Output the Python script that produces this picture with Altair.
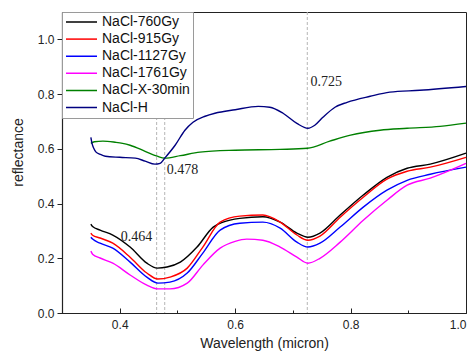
import altair as alt
import pandas as pd

# ---- data ----
series_names = ["NaCl-760Gy", "NaCl-915Gy", "NaCl-1127Gy", "NaCl-1761Gy", "NaCl-X-30min", "NaCl-H"]
series_colors = ["#000000", "#ff0000", "#0000ff", "#ff00ff", "#008000", "#000080"]

wl_760 = [0.350, 0.353, 0.366, 0.388, 0.418, 0.447, 0.465, 0.482, 0.505, 0.534, 0.562, 0.579, 0.608,
          0.648, 0.678, 0.707, 0.726, 0.747, 0.782, 0.822, 0.863, 0.898, 0.938, 1.0]
r_760 = [0.325, 0.316, 0.303, 0.285, 0.241, 0.182, 0.164, 0.168, 0.186, 0.241, 0.314, 0.332, 0.346,
         0.352, 0.332, 0.292, 0.277, 0.292, 0.358, 0.431, 0.496, 0.529, 0.544, 0.584]

wl_915 = [0.350, 0.353, 0.366, 0.388, 0.418, 0.447, 0.466, 0.487, 0.517, 0.544, 0.574, 0.608, 0.648,
          0.678, 0.707, 0.726, 0.747, 0.782, 0.822, 0.863, 0.898, 0.938, 1.0]
r_915 = [0.292, 0.284, 0.274, 0.255, 0.204, 0.146, 0.124, 0.131, 0.164, 0.241, 0.332, 0.354, 0.358,
         0.332, 0.285, 0.266, 0.281, 0.350, 0.423, 0.489, 0.518, 0.533, 0.569]

wl_1127 = [0.350, 0.353, 0.366, 0.388, 0.418, 0.447, 0.466, 0.487, 0.517, 0.544, 0.574, 0.608, 0.648,
           0.678, 0.707, 0.726, 0.747, 0.782, 0.822, 0.863, 0.898, 0.938, 1.0]
r_1127 = [0.277, 0.270, 0.255, 0.237, 0.186, 0.131, 0.109, 0.113, 0.146, 0.219, 0.303, 0.328, 0.332,
          0.310, 0.259, 0.241, 0.255, 0.314, 0.387, 0.449, 0.485, 0.507, 0.533]

wl_1761 = [0.350, 0.353, 0.366, 0.388, 0.418, 0.447, 0.466, 0.487, 0.517, 0.544, 0.574, 0.600, 0.620,
           0.648, 0.678, 0.707, 0.726, 0.747, 0.782, 0.822, 0.863, 0.898, 0.938, 1.0]
r_1761 = [0.226, 0.215, 0.201, 0.182, 0.139, 0.102, 0.088, 0.088, 0.109, 0.175, 0.237, 0.262, 0.270,
          0.266, 0.241, 0.204, 0.182, 0.200, 0.259, 0.339, 0.412, 0.467, 0.493, 0.547]

wl_x30 = [0.350, 0.356, 0.371, 0.392, 0.405, 0.418, 0.444, 0.465, 0.478, 0.505, 0.539, 0.600, 0.678,
          0.725, 0.764, 0.800, 0.851, 0.898, 0.955, 1.0]
r_x30 = [0.620, 0.626, 0.628, 0.624, 0.620, 0.613, 0.591, 0.573, 0.566, 0.575, 0.588, 0.595, 0.598,
         0.602, 0.628, 0.650, 0.668, 0.675, 0.682, 0.694]

wl_h = [0.350, 0.352, 0.355, 0.359, 0.366, 0.375, 0.400, 0.427, 0.444, 0.461, 0.470, 0.478, 0.496,
        0.513, 0.527, 0.548, 0.565, 0.600, 0.640, 0.660, 0.683, 0.707, 0.726, 0.738, 0.752, 0.773,
        0.794, 0.834, 0.868, 0.920, 1.0]
r_h = [0.642, 0.620, 0.602, 0.588, 0.580, 0.573, 0.569, 0.566, 0.555, 0.544, 0.547, 0.566, 0.613,
       0.668, 0.697, 0.719, 0.730, 0.743, 0.755, 0.752, 0.730, 0.693, 0.675, 0.686, 0.715, 0.752,
       0.770, 0.792, 0.807, 0.814, 0.828]

marker_wl = [0.464, 0.478, 0.725]
label_text = ["0.464", "0.478", "0.725"]
label_x = [0.429, 0.509, 0.758]
label_y = [0.279, 0.524, 0.844]

x_ticks = [0.3, 0.4, 0.5, 0.6, 0.7, 0.8, 0.9, 1.0]
y_ticks = [0.0, 0.1, 0.2, 0.3, 0.4, 0.5, 0.6, 0.7, 0.8, 0.9, 1.0]

# ---- tables ----
rows = []
for name, wl, rr in zip(series_names,
                        [wl_760, wl_915, wl_1127, wl_1761, wl_x30, wl_h],
                        [r_760, r_915, r_1127, r_1761, r_x30, r_h]):
    for i, (w, r) in enumerate(zip(wl, rr)):
        rows.append({"series": name, "wl": w, "r": r, "i": i})
df = pd.DataFrame(rows)
marks_df = pd.DataFrame({"wl": marker_wl})
labels_df = pd.DataFrame({"wl": label_x, "r": label_y, "t": label_text})

FONT = "Liberation Sans"
x_scale = alt.Scale(domain=[0.3, 1.0], nice=False, zero=False)
y_scale = alt.Scale(domain=[0.0, 1.1], nice=False, zero=False)

even = "round(datum.value*10) % 2 == 0"

x_axis = alt.Axis(
    values=x_ticks,
    labelExpr=f"{even} ? format(datum.value, '.1f') : ''",
    tickSize=alt.ExprRef(expr=f"{even} ? -5 : -3"),
    labelPadding=11,
    title="Wavelength (micron)",
    titlePadding=6,
    grid=False,
)
y_axis = alt.Axis(
    values=y_ticks,
    labelExpr=f"{even} ? format(datum.value, '.1f') : ''",
    tickSize=alt.ExprRef(expr=f"{even} ? 5 : 3"),
    labelPadding=3,
    title="reflectance",
    titlePadding=12,
    titleY=140,
    grid=False,
)

rules = alt.Chart(marks_df).mark_rule(
    color="#b5b5b5", strokeDash=[3, 2], strokeWidth=1
).encode(x=alt.X("wl:Q", scale=x_scale, axis=x_axis))

lines = alt.Chart(df).mark_line(strokeWidth=1.4, interpolate="monotone").encode(
    x=alt.X("wl:Q", scale=x_scale, axis=x_axis),
    y=alt.Y("r:Q", scale=y_scale, axis=y_axis),
    color=alt.Color(
        "series:N",
        scale=alt.Scale(domain=series_names, range=series_colors),
        legend=alt.Legend(title=None, orient="top-left"),
    ),
    order="i:Q",
)

texts = alt.Chart(labels_df).mark_text(
    font="Liberation Serif", fontSize=14, color="#222222"
).encode(
    x=alt.X("wl:Q", scale=x_scale),
    y=alt.Y("r:Q", scale=y_scale),
    text="t:N",
)

chart = alt.layer(rules, lines, texts).properties(
    width=404,
    height=301,
    autosize=alt.AutoSizeParams(type="none"),
    padding={"left": 54, "top": 4, "right": 2, "bottom": 40},
).configure_view(
    stroke="#222222", strokeWidth=1
).configure_axis(
    domainColor="#222222", domainWidth=1.2,
    tickColor="#222222", tickWidth=1,
    labelFont=FONT, labelFontSize=12, labelColor="#222222",
    titleFont=FONT, titleFontSize=14, titleFontWeight="normal", titleColor="#222222",
).configure_legend(
    offset=0, padding=3,
    fillColor="white", strokeColor="#9a9a9a", strokeWidth=1,
    symbolType="stroke", symbolSize=961, symbolStrokeWidth=1.5,
    labelFont=FONT, labelFontSize=14, labelColor="#111111", labelOffset=4,
    clipHeight=14, rowPadding=3.1,
)

chart.save("out.html", embed_options={"renderer": "svg", "actions": False})
